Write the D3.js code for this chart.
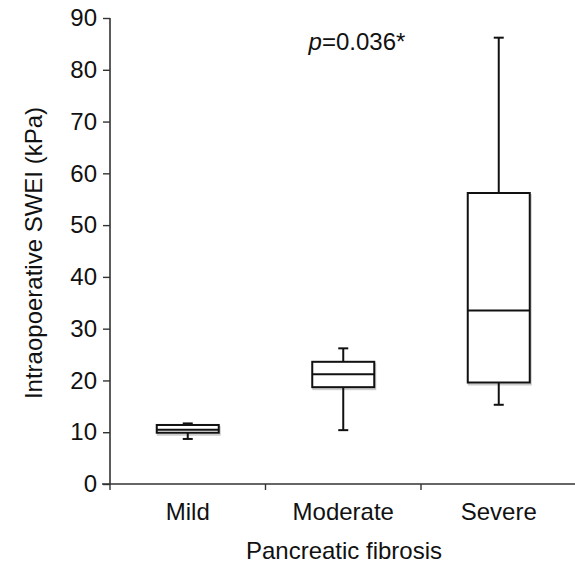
<!DOCTYPE html>
<html>
<head>
<meta charset="utf-8">
<script src="https://cdn.jsdelivr.net/npm/d3@7"></script>
<style>
  body { margin: 0; background: #fff; }
  text { font-family: "Liberation Sans", Arial, sans-serif; fill: #111; }
</style>
</head>
<body>
<div id="chart"></div>
<script>
// categories and box statistics (kPa)
const groups = ["Mild", "Moderate", "Severe"];
const mins = [8.7, 10.4, 15.3];
const q1s = [9.9, 18.7, 19.6];
const medians = [10.5, 21.2, 33.5];
const q3s = [11.4, 23.6, 56.2];
const maxs = [11.7, 26.2, 86.2];
const yTicks = [0, 10, 20, 30, 40, 50, 60, 70, 80, 90];

const width = 575, height = 566;
const mLeft = 110, mBottom = 484, mTop = 18, mRight = 575;
const band = 155.5;
const fs = "24px";

const svg = d3.select("#chart").append("svg")
    .attr("width", width)
    .attr("height", height);

const x = d3.scaleBand()
    .domain(groups)
    .range([mLeft, mLeft + 3 * band]);

const y = d3.scaleLinear()
    .domain([0, 90])
    .range([mBottom, mTop]);

// y axis
const yAxis = svg.append("g")
    .attr("transform", `translate(${mLeft},0)`)
    .call(d3.axisLeft(y).tickValues(yTicks).tickSize(7).tickPadding(6));
yAxis.select(".domain").attr("stroke", "#333").attr("stroke-width", 1.6)
    .attr("d", `M0,${y(90)}V${mBottom}`);
yAxis.selectAll(".tick line").attr("stroke", "#333").attr("stroke-width", 1.4);
yAxis.selectAll("text").style("font-size", fs).attr("fill", "#111")
    .attr("font-family", null);

// x axis line with boundary ticks
const xAxis = svg.append("g").attr("transform", `translate(0,${mBottom})`);
xAxis.append("line")
    .attr("x1", mLeft - 8).attr("x2", mRight)
    .attr("stroke", "#333").attr("stroke-width", 1.6);
xAxis.selectAll(".sep")
    .data(groups)
    .enter().append("line")
    .attr("x1", d => x(d)).attr("x2", d => x(d))
    .attr("y1", 0).attr("y2", 6)
    .attr("stroke", "#333").attr("stroke-width", 1.4);
xAxis.selectAll(".lab")
    .data(groups)
    .enter().append("text")
    .attr("x", d => x(d) + x.bandwidth() / 2)
    .attr("y", 36)
    .attr("text-anchor", "middle")
    .style("font-size", fs)
    .text(d => d);

// boxes
const boxW = 62, capW = 10;
const data = groups.map((g, i) => ({
    g, min: mins[i], q1: q1s[i], med: medians[i], q3: q3s[i], max: maxs[i]
}));

const box = svg.selectAll(".box")
    .data(data)
    .enter().append("g")
    .attr("class", "box")
    .attr("transform", d => `translate(${x(d.g) + x.bandwidth() / 2},0)`);

// faint shadow under the boxes
box.append("rect")
    .attr("x", -boxW / 2 + 1).attr("y", d => y(d.q3) + 2)
    .attr("width", boxW).attr("height", d => y(d.q1) - y(d.q3))
    .attr("fill", "none").attr("stroke", "#ccc").attr("stroke-width", 2);

box.append("line")
    .attr("y1", d => y(d.max)).attr("y2", d => y(d.q3))
    .attr("stroke", "#111").attr("stroke-width", 2);
box.append("line")
    .attr("y1", d => y(d.q1)).attr("y2", d => y(d.min))
    .attr("stroke", "#111").attr("stroke-width", 2);
box.append("line")
    .attr("x1", -capW / 2).attr("x2", capW / 2)
    .attr("y1", d => y(d.max)).attr("y2", d => y(d.max))
    .attr("stroke", "#111").attr("stroke-width", 2);
box.append("line")
    .attr("x1", -capW / 2).attr("x2", capW / 2)
    .attr("y1", d => y(d.min)).attr("y2", d => y(d.min))
    .attr("stroke", "#111").attr("stroke-width", 2);
box.append("rect")
    .attr("x", -boxW / 2).attr("y", d => y(d.q3))
    .attr("width", boxW).attr("height", d => y(d.q1) - y(d.q3))
    .attr("fill", "#fff").attr("stroke", "#111").attr("stroke-width", 2);
box.append("line")
    .attr("x1", -boxW / 2).attr("x2", boxW / 2)
    .attr("y1", d => y(d.med)).attr("y2", d => y(d.med))
    .attr("stroke", "#111").attr("stroke-width", 2);

// annotation
const ann = svg.append("text")
    .attr("x", 357).attr("y", 50)
    .attr("text-anchor", "middle")
    .style("font-size", fs);
ann.append("tspan").style("font-style", "italic").text("p");
ann.append("tspan").text("=0.036*");

// axis titles
svg.append("text")
    .attr("transform", `translate(42,${(mTop + mBottom) / 2 + 2}) rotate(-90)`)
    .attr("text-anchor", "middle")
    .style("font-size", fs)
    .text("Intraopoerative SWEI (kPa)");

svg.append("text")
    .attr("x", 344).attr("y", 559)
    .attr("text-anchor", "middle")
    .style("font-size", fs)
    .text("Pancreatic fibrosis");
</script>
</body>
</html>
